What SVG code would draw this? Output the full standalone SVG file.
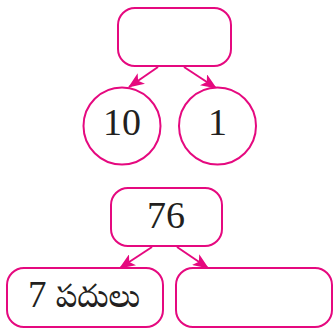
<svg xmlns="http://www.w3.org/2000/svg" width="333" height="329" viewBox="0 0 333 329">
<style>
.n{fill:#fff;stroke:#E5097F;stroke-width:2}
.c{stroke:#E5097F;stroke-width:2;fill:none}
.t{font-family:"Liberation Serif","Noto Serif Telugu","Noto Sans Telugu",serif;fill:#231F20;text-anchor:middle}
</style>
<defs>
<marker id="ah" viewBox="0 0 16 13" refX="15" refY="6.5" markerWidth="16" markerHeight="13" markerUnits="userSpaceOnUse" orient="auto">
<path d="M0,0 L16,6.5 L0,13 L4,6.5 Z" fill="#E5097F"/>
</marker>
</defs>
<rect width="333" height="329" fill="#fff"/>
<g id="connectors">
<line class="c" x1="158" y1="67" x2="129" y2="87" marker-end="url(#ah)"/>
<line class="c" x1="184" y1="67" x2="216" y2="88" marker-end="url(#ah)"/>
<line class="c" x1="152" y1="247" x2="120" y2="268" marker-end="url(#ah)"/>
<line class="c" x1="177" y1="247" x2="208" y2="268" marker-end="url(#ah)"/>
</g>
<g id="top">
<rect class="n" x="118" y="8" width="113" height="58" rx="17"/>
</g>
<g id="ten">
<circle class="n" cx="122" cy="126" r="38.5"/>
<text class="t" x="122" y="135" font-size="38">10</text>
</g>
<g id="one">
<circle class="n" cx="217.5" cy="126" r="38.5"/>
<text class="t" x="217.5" y="135" font-size="38">1</text>
</g>
<g id="n76">
<rect class="n" x="111" y="188" width="111" height="58" rx="17"/>
<text class="t" x="166" y="228" font-size="38">76</text>
</g>
<g id="tens">
<rect class="n" x="7" y="268" width="156" height="59" rx="17"/>
<text class="t" x="84" y="307" font-size="37">7 <tspan font-size="32">పదులు</tspan></text>
</g>
<g id="blank">
<rect class="n" x="176" y="268" width="156" height="59" rx="17"/>
</g>
</svg>
